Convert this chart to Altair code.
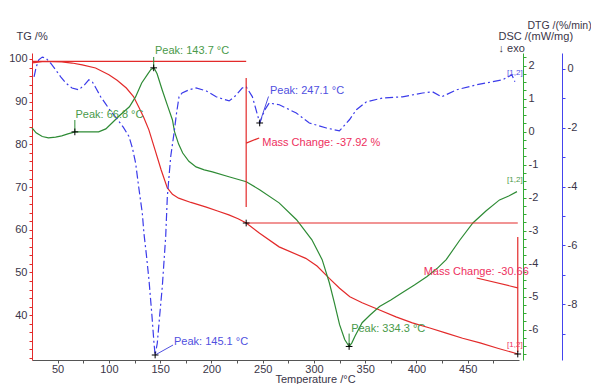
import altair as alt
import pandas as pd

# ---------------- data ----------------
# TG (red), %
tg_T = [25, 35, 45, 54, 64, 74, 87, 100, 108, 117, 124, 129, 134, 139, 145, 151, 157, 162, 168,
        180, 195, 206, 217, 226, 234, 247, 266, 292, 303, 315, 325, 335, 347, 364, 380, 396, 413,
        429, 445, 462, 480, 499]
tg_V = [99.1, 99.4, 99.4, 99.3, 99.05, 98.6, 97.9, 96.3, 95.0, 93.2, 91.2, 88.8, 86.3, 83.4, 78.7,
        74.0, 69.8, 68.3, 67.4, 66.4, 65.3, 64.4, 63.5, 62.6, 61.58, 59.2, 56.0, 53.3, 51.5, 48.6,
        46.3, 44.3, 42.9, 41.2, 39.6, 38.2, 37.0, 35.8, 34.6, 33.5, 32.2, 30.9]

# DSC (green), mW/mg
dsc_T = [25, 29, 35, 41, 48, 54, 60, 67, 80, 90, 97, 103, 111, 120, 126, 132, 138, 141, 144, 147,
         152, 157, 162, 164, 168, 172, 178, 185, 193, 201, 217, 234, 247, 266, 283, 298, 308, 315,
         320, 325, 330, 334.3, 337, 340, 347, 355, 364, 375, 386, 398, 410, 420, 429, 442, 455,
         468, 481, 490, 498]
dsc_V = [0.11, -0.04, -0.15, -0.19, -0.17, -0.13, -0.07, -0.01, -0.01, -0.01, 0.08, 0.26, 0.5,
         0.75, 1.05, 1.47, 1.75, 1.88, 1.93, 1.75, 1.26, 0.8, 0.35, 0.0, -0.38, -0.65, -0.9, -1.07,
         -1.16, -1.22, -1.37, -1.52, -1.76, -2.16, -2.67, -3.28, -3.88, -4.58, -5.2, -5.85, -6.3,
         -6.51, -6.4, -6.2, -5.79, -5.55, -5.30, -5.1, -4.88, -4.65, -4.40, -4.15, -3.88, -3.3,
         -2.77, -2.4, -2.07, -1.95, -1.82]

# DTG (blue), %/min
dtg_T = [27, 29, 31.6, 35, 38.4, 43, 48, 53, 58, 64, 70.7, 76, 80.4, 84, 87.3, 92, 97, 102, 108,
         114, 119.6, 123, 126.1, 129, 132.6, 134.2, 136.5, 139.1, 142, 144, 145.1, 147.2, 149.5,
         152.1, 155.4, 157, 160.3, 163.5, 166, 168.4, 171.4, 178.2, 185, 195, 204.6, 217.3, 224,
         230, 233.9, 240, 247.1, 252, 256.4, 266.2, 282.8, 295.5, 312.1, 324.8, 334.6, 341.4,
         351.2, 366.9, 386.4, 406, 415.7, 424.5, 439.2, 458.7, 484.2, 493, 496]
dtg_V = [-0.27, 0.05, 0.31, 0.4, 0.37, 0.2, -0.03, -0.27, -0.48, -0.65, -0.71, -0.55, -0.37,
         -0.45, -0.65, -0.95, -1.2, -1.45, -1.7, -1.98, -2.30, -2.7, -3.21, -4.0, -4.91, -5.6,
         -6.3, -7.18, -8.4, -9.33, -9.73, -9.33, -8.4, -7.40, -5.70, -4.34, -2.98, -2.19, -1.5,
         -0.95, -0.82, -0.71, -0.65, -0.75, -0.95, -1.09, -0.9, -0.65, -0.61, -0.95, -1.84, -1.4,
         -1.16, -1.22, -1.50, -1.84, -2.01, -2.11, -1.73, -1.39, -1.12, -0.99, -0.95, -0.82,
         -0.78, -0.95, -0.71, -0.54, -0.37, -0.20, -0.44]

# annotation lines (TG units)
tg_rule_x = [25, 233.9, 233.9, 233.9, 498.8, 498.8]
tg_rule_x2 = [233.9, 233.9, 246.6, 498.8, 498.8, 458.7]
tg_rule_y = [99.45, 95.55, 80.3, 61.58, 58.3, 46.4]
tg_rule_y2 = [99.45, 65.34, 81.5, 61.58, 31.4, 48.7]
tg_text = ["Mass Change: -37.92 %", "Mass Change: -30.66"]
tg_text_T = [249.6, 407]
tg_text_V = [80.3, 50.1]
tg_tag_T = [496]
tg_tag_V = [33.0]
tg_mark_T = [233.9, 498.8]
tg_mark_V = [61.58, 30.9]

# DSC peaks
dsc_peak_T = [66.8, 143.7, 334.3]
dsc_peak_V = [-0.01, 1.93, -6.51]
dsc_lead_V = [0.35, 2.26, -6.12]
dsc_text = ["Peak: 66.8 °C", "Peak: 143.7 °C", "Peak: 334.3 °C"]
dsc_text_T = [67.4, 145, 336.3]
dsc_text_V = [0.50, 2.43, -5.97]
dsc_tag_T = [496]
dsc_tag_V = [-1.46]

# DTG peaks
dtg_peak_T = [145.1, 247.1]
dtg_peak_V = [-9.73, -1.84]
dtg_lead_T = [162.6, 255.7]
dtg_lead_V = [-9.39, -0.94]
dtg_text = ["Peak: 145.1 °C", "Peak: 247.1 °C"]
dtg_text_T = [163.5, 257.1]
dtg_text_V = [-9.29, -0.75]
dtg_tag_T = [496]
dtg_tag_V = [-0.15]

# axis ticks
x_ticks = list(range(50, 500, 25))
tg_ticks = list(range(30, 101, 2))
dsc_ticks = [v / 4 for v in range(-27, 10)]
dtg_ticks = list(range(-9, 1))

# ---------------- styling ----------------
FONT = "Liberation Sans"
LBL = "#3a3548"
RED = "#e32a2a"
GREEN = "#2e8b35"
BLUE = "#3b3bea"
RED_T = "#ee3060"
GREEN_T = "#4a9a4a"
BLUE_T = "#5050e0"
PLUS = "M-1,0L1,0M0,-1L0,1"

XS = alt.Scale(domain=[25, 500], nice=False, zero=False)
TGS = alt.Scale(domain=[29.5, 101.4], nice=False, zero=False)
DSCS = alt.Scale(domain=[-6.92, 2.38], nice=False, zero=False)
DTGS = alt.Scale(domain=[-9.9, 0.54], nice=False, zero=False)


def ax(**kw):
    base = dict(grid=False, labelFont=FONT, titleFont=FONT, labelFontSize=11, titleFontSize=11,
                titleFontWeight="normal", labelColor=LBL, titleColor=LBL, tickSize=3,
                labelPadding=2, labelOverlap=False)
    base.update(kw)
    return alt.Axis(**base)


x_axis = ax(values=x_ticks, labelPadding=0,
            labelExpr="datum.value % 50 == 0 ? datum.label : ''",
            domainColor="#555555", tickColor="#555555", title="Temperature /°C",
            titleX=283, titleY=19, titleAlign="center", titleBaseline="middle")

tg_axis = ax(orient="left", values=tg_ticks,
             labelExpr="(datum.value % 10 == 0 && datum.value >= 40) ? datum.label : ''",
             domainColor=RED, tickColor=RED, title="TG /%", titleAngle=0,
             titleAlign="left", titleBaseline="middle", titleX=-16, titleY=-17)

dsc_axis = ax(orient="right", offset=4, values=dsc_ticks, format=".0f",
              labelExpr="datum.value % 1 == 0 ? replace(datum.label, '\u2212', '-') : ''",
              domainColor="#33aa33", tickColor="#33aa33",
              title=["DSC /(mW/mg)", "\u2193  exo"], titleAngle=0, titleAlign="left",
              titleBaseline="top", titleX=-25, titleY=-23, titleLineHeight=12.5)

dtg_axis = ax(orient="right", offset=43, values=dtg_ticks, format=".0f",
              labelExpr="datum.value % 2 == 0 ? replace(datum.label, '\u2212', '-') : ''",
              domainColor="#4444ee", tickColor="#4444ee", title="DTG /(%/min)",
              titleFontSize=10.5, titleAngle=0, titleAlign="left", titleBaseline="middle",
              titleX=-35, titleY=-28)

# ---------------- tables ----------------
df_tg = pd.DataFrame({"T": tg_T, "V": tg_V})
df_dsc = pd.DataFrame({"T": dsc_T, "V": dsc_V})
df_dtg = pd.DataFrame({"T": dtg_T, "V": dtg_V})

df_tg_rules = pd.DataFrame({"T": tg_rule_x, "T2": tg_rule_x2, "V": tg_rule_y, "V2": tg_rule_y2})
df_tg_text = pd.DataFrame({"T": tg_text_T, "V": tg_text_V, "t": tg_text})
df_tg_tag = pd.DataFrame({"T": tg_tag_T, "V": tg_tag_V, "t": ["[1,2]"]})
df_tg_mark = pd.DataFrame({"T": tg_mark_T, "V": tg_mark_V})

df_dsc_rules = pd.DataFrame({"T": dsc_peak_T, "V": dsc_peak_V, "V2": dsc_lead_V})
df_dsc_text = pd.DataFrame({"T": dsc_text_T, "V": dsc_text_V, "t": dsc_text})
df_dsc_tag = pd.DataFrame({"T": dsc_tag_T, "V": dsc_tag_V, "t": ["[1,2]"]})
df_dsc_mark = pd.DataFrame({"T": dsc_peak_T, "V": dsc_peak_V})

df_dtg_rules = pd.DataFrame({"T": dtg_peak_T, "T2": dtg_lead_T, "V": dtg_peak_V, "V2": dtg_lead_V})
df_dtg_text = pd.DataFrame({"T": dtg_text_T, "V": dtg_text_V, "t": dtg_text})
df_dtg_tag = pd.DataFrame({"T": dtg_tag_T, "V": dtg_tag_V, "t": ["[1,2]"]})
df_dtg_mark = pd.DataFrame({"T": dtg_peak_T, "V": dtg_peak_V})


def xq():
    # identical x axis in every layer so the shared axis merges cleanly
    return alt.X("T:Q", scale=XS, axis=x_axis)


def yq(scale, axis=None):
    return alt.Y("V:Q", scale=scale, axis=axis)


def text_layer(df, scale, color, size=11, align="left"):
    return alt.Chart(df).mark_text(font=FONT, fontSize=size, color=color, align=align,
                                   baseline="middle").encode(x=xq(), y=yq(scale), text="t:N")


def mark_layer(df, scale):
    return alt.Chart(df).mark_point(shape=PLUS, size=45, filled=False, color="black",
                                    strokeWidth=1, opacity=1).encode(x=xq(), y=yq(scale))


# ---------------- lines with axes ----------------
tg_line = alt.Chart(df_tg).mark_line(color=RED, strokeWidth=1.2).encode(
    x=xq(), y=yq(TGS, tg_axis))
dsc_line = alt.Chart(df_dsc).mark_line(color=GREEN, strokeWidth=1.2).encode(
    x=xq(), y=yq(DSCS, dsc_axis))
dtg_line = alt.Chart(df_dtg).mark_line(color=BLUE, strokeWidth=1.2,
                                       strokeDash=[8, 3, 2, 3]).encode(
    x=xq(), y=yq(DTGS, dtg_axis))

# ---------------- annotations ----------------
tg_rules = alt.Chart(df_tg_rules).mark_rule(color=RED, strokeWidth=1.2).encode(
    x=xq(), x2="T2:Q", y=yq(TGS), y2="V2:Q")
dsc_rules = alt.Chart(df_dsc_rules).mark_rule(color=GREEN, strokeWidth=1).encode(
    x=xq(), y=yq(DSCS), y2="V2:Q")
dtg_rules = alt.Chart(df_dtg_rules).mark_rule(color=BLUE_T, strokeWidth=1).encode(
    x=xq(), x2="T2:Q", y=yq(DTGS), y2="V2:Q")

layers = [
    tg_line, dsc_line, dtg_line,
    tg_rules, text_layer(df_tg_text, TGS, RED_T),
    text_layer(df_tg_tag, TGS, RED_T, size=8, align="center"), mark_layer(df_tg_mark, TGS),
    dsc_rules, text_layer(df_dsc_text, DSCS, GREEN_T),
    text_layer(df_dsc_tag, DSCS, GREEN_T, size=8, align="center"), mark_layer(df_dsc_mark, DSCS),
    dtg_rules, text_layer(df_dtg_text, DTGS, BLUE_T),
    text_layer(df_dtg_tag, DTGS, BLUE_T, size=8, align="center"), mark_layer(df_dtg_mark, DTGS),
]

chart = alt.layer(*layers).resolve_scale(y="independent").properties(
    width=487, height=307, autosize=alt.AutoSizeParams(type="none"),
    padding={"left": 24, "top": 45, "right": 72, "bottom": 24},
    background="white",
).configure_view(stroke=None)

chart.save("out.html", embed_options={"renderer": "svg", "actions": False})
